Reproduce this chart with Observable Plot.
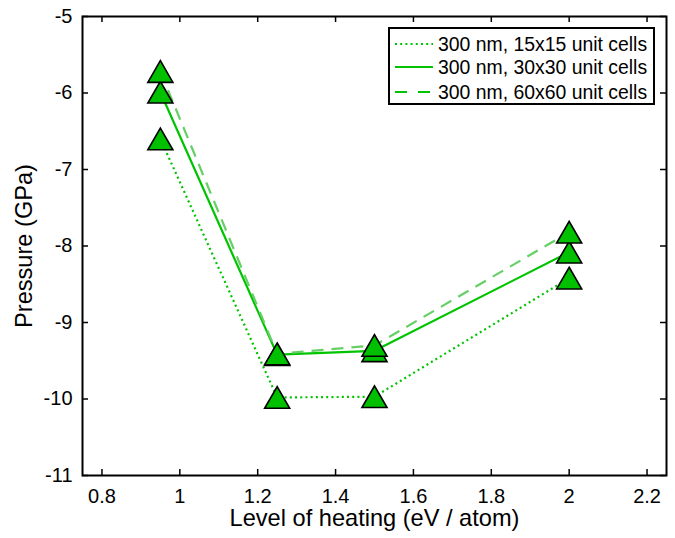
<!DOCTYPE html>
<html>
<head>
<meta charset="utf-8">
<script src="https://cdn.jsdelivr.net/npm/d3@7"></script>
<script src="https://cdn.jsdelivr.net/npm/@observablehq/plot@0.6"></script>
<style>
  body { margin: 0; background: #fff; font-family: "Liberation Sans", Arial, sans-serif; }
  #wrap { position: relative; width: 675px; height: 538px; }
  #legend { position: absolute; left: 388px; top: 27px; width: 267px; height: 78px;
            border: 2px solid #000; background: #fff; box-sizing: border-box; }
  .row { position: absolute; left: 0; height: 22px; display: flex; align-items: center; font-size: 19.4px; color: #000; white-space: nowrap; }
  .row svg { margin-left: 5px; margin-right: 5px; }
</style>
</head>
<body>
<div id="wrap"><div id="chart"></div><div id="legend"></div></div>
<script>
const heating = [0.95, 1.25, 1.5, 2.0];
const p15 = [-6.60, -9.98, -9.97, -8.42];
const p30 = [-5.99, -9.42, -9.37, -8.08];
const p60 = [-5.72, -9.41, -9.30, -7.82];
const seriesNames = ["300 nm, 15x15 unit cells", "300 nm, 30x30 unit cells", "300 nm, 60x60 unit cells"];
const xTicks = [0.8, 1, 1.2, 1.4, 1.6, 1.8, 2, 2.2];
const yTicks = [-11, -10, -9, -8, -7, -6, -5];

const green = "#00c400";
const styles = [
  {stroke: green, dash: "2,3.2", legendDash: "2,3.2"},
  {stroke: green, dash: null, legendDash: null},
  {stroke: "#66cf66", dash: "12,8", legendDash: "12,11"}
];
const allSeries = [p15, p30, p60];
const rows = allSeries.map((vals, s) => vals.map((v, i) => ({x: heating[i], y: v, s})));

const marks = [];
rows.forEach((r, s) => {
  marks.push(Plot.line(r, {x: "x", y: "y", stroke: styles[s].stroke, strokeWidth: 2.2,
    strokeDasharray: styles[s].dash, strokeLinecap: "butt"}));
});
rows.forEach((r) => {
  marks.push(Plot.dot(r, {x: "x", y: "y", symbol: "triangle", r: 9.3, dy: 3.6,
    fill: "#00c000", stroke: "#000", strokeWidth: 1.6}));
});

const W = 675, H = 538, mL = 82, mR = 9, mT = 16, mB = 63;
const plotH = H - mT - mB, plotW = W - mL - mR;
const chart = Plot.plot({
  width: W, height: H,
  marginLeft: mL, marginRight: mR, marginTop: mT, marginBottom: mB,
  style: {fontFamily: "Liberation Sans, Arial, sans-serif", background: "#fff", color: "#000"},
  x: {domain: [0.75, 2.25], ticks: xTicks, tickFormat: d => String(d)},
  y: {domain: [-11, -5], ticks: yTicks, tickFormat: d => String(d)},
  marks: [
    Plot.axisX(xTicks, {tickSize: 0, tickPadding: 13, fontSize: 20, label: null, tickFormat: d => String(d)}),
    Plot.axisY(yTicks, {tickSize: 0, tickPadding: 10, fontSize: 20, label: null, tickFormat: d => String(d)}),
    Plot.tickX(xTicks, {x: d => d, insetTop: plotH - 6, stroke: "#000", strokeWidth: 1.5}),
    Plot.tickX(xTicks, {x: d => d, insetBottom: plotH - 6, stroke: "#000", strokeWidth: 1.5}),
    Plot.tickY(yTicks, {y: d => d, insetRight: plotW - 6, stroke: "#000", strokeWidth: 1.5}),
    Plot.tickY(yTicks, {y: d => d, insetLeft: plotW - 6, stroke: "#000", strokeWidth: 1.5}),
    ...marks,
    Plot.frame({stroke: "#000", strokeWidth: 2}),
    Plot.text(["Level of heating (eV / atom)"], {frameAnchor: "bottom", dy: 50, fontSize: 23.6, fill: "#000"}),
    Plot.text(["Pressure (GPa)"], {frameAnchor: "left", textAnchor: "middle", dx: -58, rotate: -90, fontSize: 23.6, fill: "#000"})
  ]
});
document.getElementById("chart").appendChild(chart);

const legend = document.getElementById("legend");
const rowTops = [4, 27, 52];
seriesNames.forEach((name, i) => {
  const row = document.createElement("div");
  row.className = "row";
  row.style.top = rowTops[i] + "px";
  const st = styles[i];
  const dash = st.legendDash ? ` stroke-dasharray="${st.legendDash}"` : "";
  row.innerHTML = `<svg width="38" height="10"><line x1="0" y1="5" x2="38" y2="5" stroke="${green}" stroke-width="2.2"${dash}/></svg><span>${name}</span>`;
  legend.appendChild(row);
});
</script>
</body>
</html>
